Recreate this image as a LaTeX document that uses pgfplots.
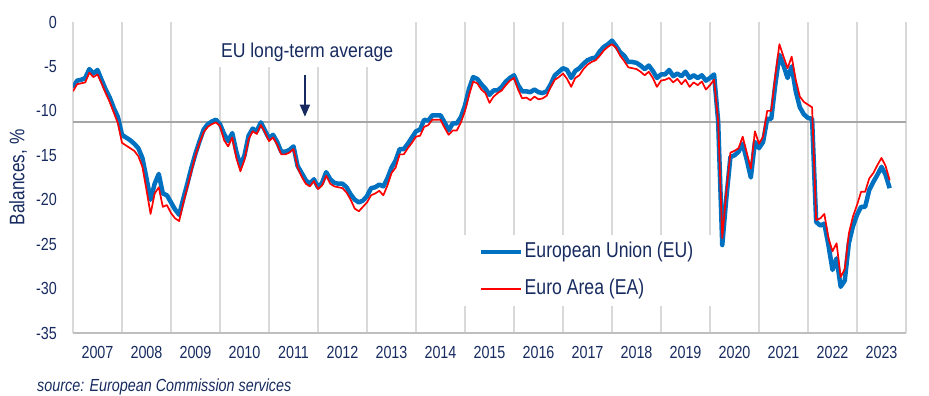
\documentclass[border=0pt]{standalone}
\usepackage{fontspec}
\setmainfont{Liberation Sans}[FakeStretch=0.82]
\newfontfamily\annfont{Liberation Sans}[FakeStretch=0.88]
\usepackage{pgfplots}
\pgfplotsset{compat=1.18}
\usepackage{pgfplotstable}
\usetikzlibrary{arrows.meta}
\definecolor{navy}{RGB}{23,43,96}
\definecolor{eublue}{RGB}{0,112,192}
\definecolor{eared}{RGB}{255,0,0}
\definecolor{gridc}{RGB}{217,217,217}
\definecolor{avgc}{RGB}{166,166,166}
\definecolor{axisc}{RGB}{191,191,191}
\pgfplotstableread{
m eu ea
0 -7.4 -7.8
1 -6.6 -7.0
2 -6.5 -6.9
3 -6.3 -6.8
4 -5.3 -5.7
5 -5.8 -6.2
6 -5.4 -5.9
7 -6.5 -6.9
8 -7.6 -8.0
9 -8.5 -9.0
10 -9.7 -10.2
11 -10.7 -11.4
12 -12.7 -13.6
13 -13.0 -13.9
14 -13.3 -14.2
15 -13.7 -14.5
16 -14.2 -15.1
17 -15.3 -16.3
18 -17.6 -18.9
19 -20.0 -21.6
20 -18.2 -19.3
21 -17.1 -18.6
22 -19.3 -20.8
23 -19.5 -20.6
24 -20.3 -21.5
25 -21.1 -22.1
26 -21.7 -22.4
27 -19.9 -20.4
28 -18.2 -18.6
29 -16.4 -16.8
30 -14.8 -15.0
31 -13.4 -13.6
32 -12.1 -12.4
33 -11.5 -11.8
34 -11.2 -11.5
35 -11.0 -11.3
36 -11.5 -11.7
37 -12.6 -13.3
38 -13.4 -14.0
39 -12.5 -13.0
40 -14.6 -15.3
41 -16.2 -16.8
42 -15.0 -15.5
43 -12.8 -13.2
44 -12.0 -12.3
45 -12.3 -12.6
46 -11.3 -11.6
47 -12.2 -12.4
48 -13.1 -13.4
49 -12.7 -13.0
50 -13.5 -13.8
51 -14.6 -14.9
52 -14.6 -14.9
53 -14.4 -14.7
54 -14.0 -14.3
55 -16.2 -16.4
56 -17.0 -17.4
57 -17.8 -18.2
58 -18.2 -18.5
59 -17.7 -17.9
60 -18.6 -18.8
61 -18.1 -18.4
62 -16.9 -17.3
63 -17.7 -18.2
64 -18.1 -18.5
65 -18.2 -18.6
66 -18.2 -18.7
67 -18.6 -19.2
68 -19.4 -20.0
69 -20.0 -21.0
70 -20.3 -21.3
71 -20.1 -20.8
72 -19.6 -20.3
73 -18.7 -19.5
74 -18.6 -19.3
75 -18.3 -19.0
76 -18.5 -19.5
77 -17.6 -18.4
78 -16.4 -17.0
79 -15.6 -16.4
80 -14.3 -14.9
81 -14.3 -14.9
82 -13.7 -14.2
83 -13.0 -13.6
84 -12.3 -12.9
85 -12.1 -12.8
86 -11.0 -11.8
87 -11.1 -11.6
88 -10.5 -11.0
89 -10.5 -11.0
90 -10.5 -11.0
91 -11.3 -11.9
92 -12.2 -12.7
93 -11.4 -12.2
94 -11.4 -12.2
95 -10.7 -11.3
96 -9.4 -10.0
97 -7.5 -8.2
98 -6.2 -6.7
99 -6.4 -6.9
100 -7.0 -7.6
101 -7.5 -8.0
102 -8.2 -9.1
103 -7.7 -8.4
104 -7.7 -8.0
105 -7.3 -7.7
106 -6.7 -7.1
107 -6.3 -6.6
108 -6.0 -6.3
109 -7.1 -7.6
110 -7.8 -8.6
111 -7.8 -8.5
112 -7.9 -8.8
113 -7.6 -8.4
114 -7.9 -8.7
115 -8.0 -8.6
116 -7.8 -8.3
117 -7.0 -7.3
118 -6.0 -6.5
119 -5.6 -6.2
120 -5.2 -5.8
121 -5.4 -6.4
122 -6.3 -7.3
123 -5.5 -6.3
124 -5.2 -6.0
125 -4.7 -5.3
126 -4.3 -4.8
127 -4.1 -4.5
128 -4.0 -4.3
129 -3.3 -3.8
130 -2.8 -3.2
131 -2.5 -2.8
132 -2.1 -2.5
133 -2.7 -2.9
134 -3.4 -3.8
135 -3.8 -4.4
136 -4.5 -5.1
137 -4.5 -5.2
138 -4.6 -5.3
139 -4.9 -5.6
140 -5.3 -6.0
141 -4.9 -5.6
142 -5.5 -6.3
143 -6.3 -7.3
144 -5.9 -6.6
145 -5.9 -6.5
146 -5.4 -6.3
147 -6.1 -6.8
148 -5.8 -6.4
149 -6.1 -7.0
150 -5.6 -6.5
151 -6.3 -7.3
152 -6.0 -6.8
153 -6.3 -7.1
154 -6.0 -6.7
155 -6.6 -7.6
156 -6.3 -7.1
157 -5.9 -6.5
158 -11.2 -11.2
159 -25.1 -24.3
160 -19.8 -19.1
161 -15.2 -14.7
162 -15.0 -14.5
163 -14.6 -14.2
164 -13.7 -12.9
165 -15.5 -14.7
166 -17.5 -16.5
167 -13.5 -12.3
168 -14.2 -13.7
169 -13.5 -12.9
170 -10.9 -10.0
171 -10.9 -10.0
172 -7.0 -6.0
173 -3.7 -2.5
174 -4.9 -3.9
175 -6.3 -5.2
176 -5.0 -3.9
177 -7.8 -6.5
178 -9.6 -8.4
179 -10.4 -9.0
180 -10.8 -9.3
181 -10.9 -9.6
182 -22.5 -22.3
183 -22.9 -22.1
184 -22.7 -21.6
185 -25.1 -24.3
186 -27.9 -25.8
187 -26.6 -24.9
188 -29.8 -28.7
189 -29.1 -27.8
190 -24.9 -23.8
191 -23.0 -21.9
192 -21.7 -20.6
193 -20.8 -19.1
194 -20.8 -19.1
195 -18.9 -17.6
196 -18.0 -17.0
197 -17.2 -16.1
198 -16.3 -15.3
199 -17.2 -16.2
200 -18.7 -17.8
}\datatable
\begin{document}
\begin{tikzpicture}
\useasboundingbox (0,0) rectangle (929bp,396bp);
\begin{axis}[
  at={(73bp,63bp)}, anchor=south west,
  scale only axis, width=833bp, height=311bp,
  xmin=0, xmax=204, ymin=-35, ymax=0,
  axis lines*=left,
  y axis line style={draw=none},
  x axis line style={axisc, line width=1.5bp},
  xtick={6,18,...,198},
  xticklabels={2007,2008,2009,2010,2011,2012,2013,2014,2015,2016,2017,2018,2019,2020,2021,2022,2023},
  minor xtick={0,12,...,204},
  xminorgrids=true,
  minor x grid style={gridc, line width=1.5bp},
  major tick length=0pt, minor tick length=0pt,
  ytick={-35,-30,...,0},
  yticklabels={-35,-30,-25,-20,-15,-10,-5,0},
  /pgf/number format/assume math mode=true,
  ticklabel style={font=\fontsize{17.5bp}{17.5bp}\selectfont, text=navy},
  yticklabel style={anchor=east, inner sep=0pt, xshift=-16bp},
  xticklabel style={anchor=center, inner sep=0pt, yshift=-19bp},
  ylabel={Balances, \%},
  ylabel style={at={(axis description cs:-0.066,0.5)}, anchor=center, font=\fontsize{21bp}{21bp}\selectfont, text=navy},
  legend style={at={(rel axis cs:0.4586,0.315)}, anchor=north west, draw=none, fill=white,
    inner xsep=24bp, inner ysep=6bp, row sep=15bp,
    font=\fontsize{21.5bp}{21.5bp}\selectfont, text=navy,
    nodes={inner sep=1bp, text height=15.5bp, text depth=4.5bp},
    /tikz/every even column/.append style={column sep=2bp}},
  legend cell align=left,
  legend image code/.code={\draw[#1] (0bp,0bp) -- (40bp,0bp);},
]
\fill[white] (axis cs:34.8,0) rectangle (axis cs:79,-5.06);
\addplot[avgc, line width=2bp, forget plot] coordinates {(0,-11.3) (204,-11.3)};
\addplot[eublue, line width=4.5bp, line join=round] table[x=m, y=eu] {\datatable};
\addlegendentry{European Union (EU)}
\addplot[eared, line width=1.7bp, line join=round] table[x=m, y=ea] {\datatable};
\addlegendentry{Euro Area (EA)}
\node[anchor=base west, inner sep=0pt, text=navy, font=\annfont\fontsize{20bp}{20bp}\selectfont] at (axis cs:36.2,-3.97) {EU long-term average};
\draw[navy, line width=1.5bp, -{Triangle[length=12bp,width=10bp]}] (axis cs:56.8,-5.96) -- (axis cs:56.8,-10.66);
\end{axis}
\node[anchor=base west, inner sep=0pt, text=navy, font=\fontsize{17.5bp}{17.5bp}\selectfont\itshape] at (37bp,5bp) {source: European Commission services};
\end{tikzpicture}
\end{document}
